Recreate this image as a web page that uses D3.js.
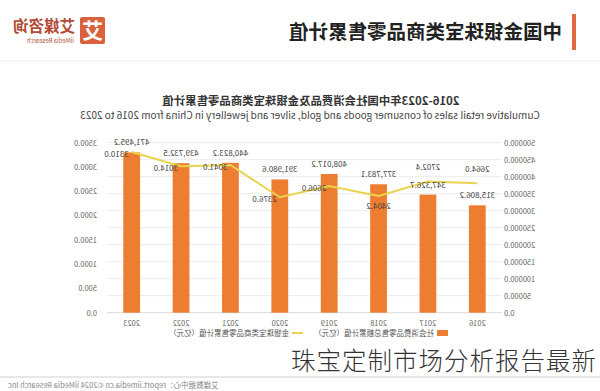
<!DOCTYPE html>
<html>
<head>
<meta charset="utf-8">
<script src="https://cdn.jsdelivr.net/npm/d3@7"></script>
<style>
  body { margin: 0; background: #fff; }
  svg { display: block; font-family: "Noto Sans CJK SC", "Noto Sans", sans-serif; }
</style>
</head>
<body>
<script>
var years = ["2016", "2017", "2018", "2019", "2020", "2021", "2022", "2023"];
var retailTotal = [315806.2, 347326.7, 377783.1, 408017.2, 391980.6, 440823.2, 439732.5, 471495.2];
var jewellery = [2664.0, 2702.4, 2404.2, 2606.0, 2376.0, 3041.0, 3014.0, 3310.0];
var leftTicks = [0, 50000, 100000, 150000, 200000, 250000, 300000, 350000, 400000, 450000, 500000];
var rightTicks = [0, 500, 1000, 1500, 2000, 2500, 3000, 3500];
// where each line label sits relative to its point
var lineLabelPos = ["above", "above", "below", "right", "right", "right", "right", "right"];

var W = 600, H = 391;
var plot = {left: 98, right: 493, top: 142.7, bottom: 312.7};

var svg = d3.select("body").append("svg")
    .attr("width", W)
    .attr("height", H);

// the reference picture is a mirror image, so the chart is drawn normally and flipped
var g = svg.append("g")
    .attr("transform", `translate(${W},0) scale(-1,1)`);

// header
g.append("rect").attr("x", 24).attr("y", 14).attr("width", 4).attr("height", 36).attr("fill", "#df6a42");
g.append("text").attr("x", 38).attr("y", 39)
    .attr("font-size", 19.5).attr("font-weight", "bold").attr("fill", "#222")
    .text("中国金银珠宝类商品零售累计值");
g.append("rect").attr("x", 495).attr("y", 17).attr("width", 25).attr("height", 27).attr("rx", 2).attr("fill", "#d9623c");
g.append("text").attr("x", 507.5).attr("y", 38).attr("text-anchor", "middle")
    .attr("font-size", 21).attr("font-weight", "bold").attr("fill", "#fff").text("艾");
g.append("text").attr("x", 525).attr("y", 32)
    .attr("font-size", 15.5).attr("font-weight", "bold").attr("fill", "#b34a35").text("艾媒咨询");
g.append("text").attr("x", 526).attr("y", 43)
    .attr("font-size", 6).attr("fill", "#b34a35").text("iiMedia Research");
g.append("line").attr("x1", 0).attr("x2", W).attr("y1", 61).attr("y2", 61)
    .attr("stroke", "#f0f0f0");

// chart titles
g.append("text").attr("x", 289).attr("y", 105).attr("text-anchor", "middle")
    .attr("font-size", 11.4).attr("font-weight", "bold").attr("fill", "#333")
    .text("2016-2023年中国社会消费品及金银珠宝类商品零售累计值");
g.append("text").attr("x", 290).attr("y", 119).attr("text-anchor", "middle")
    .attr("font-size", 10).attr("fill", "#444")
    .text("Cumulative retail sales of consumer goods and gold, silver and jewellery in China from 2016 to 2023");

var x = d3.scaleBand().domain(years).range([plot.left, plot.right]).paddingInner(0.66).paddingOuter(0.33);
var yL = d3.scaleLinear().domain([0, 500000]).range([plot.bottom, plot.top]);
var yR = d3.scaleLinear().domain([0, 3500]).range([plot.bottom, plot.top]);

// gridlines
g.append("g").selectAll("line").data(leftTicks).join("line")
    .attr("x1", plot.left).attr("x2", plot.right)
    .attr("y1", d => yL(d)).attr("y2", d => yL(d))
    .attr("stroke", d => d === 0 ? "#d9d9d9" : "#ececec");

var axisL = g.append("g")
    .attr("transform", `translate(${plot.left - 2},0)`)
    .call(d3.axisLeft(yL).tickValues(leftTicks).tickSize(0).tickPadding(0).tickFormat(d3.format(".1f")));
var axisR = g.append("g")
    .attr("transform", `translate(${plot.right + 10},0)`)
    .call(d3.axisRight(yR).tickValues(rightTicks).tickSize(0).tickPadding(0).tickFormat(d3.format(".1f")));
var axisX = g.append("g")
    .attr("transform", `translate(0,${plot.bottom})`)
    .call(d3.axisBottom(x).tickSize(0).tickPadding(8));
[axisL, axisR, axisX].forEach(a => {
  a.select(".domain").remove();
  a.selectAll("text").attr("font-size", 7.5).attr("fill", "#666")
      .attr("font-family", "\"Noto Sans CJK SC\", sans-serif");
});

// bars
var rows = years.map((y, i) => ({year: y, total: retailTotal[i], jew: jewellery[i], pos: lineLabelPos[i]}));
g.append("g").selectAll("rect").data(rows).join("rect")
    .attr("x", d => x(d.year))
    .attr("width", x.bandwidth())
    .attr("y", d => yL(d.total))
    .attr("height", d => plot.bottom - yL(d.total))
    .attr("fill", "#ed7d31");

// line
var line = d3.line()
    .x(d => x(d.year) + x.bandwidth() / 2)
    .y(d => yR(d.jew));
g.append("path").datum(rows)
    .attr("fill", "none")
    .attr("stroke", "#e9d44e")
    .attr("stroke-width", 2)
    .attr("d", line);

// labels
var fmt = d3.format(",.1f");
g.append("g").selectAll("text").data(rows).join("text")
    .attr("x", d => x(d.year) + x.bandwidth() / 2)
    .attr("y", d => yL(d.total) - 7)
    .attr("text-anchor", "middle")
    .attr("font-size", 8).attr("fill", "#444")
    .text(d => fmt(d.total));

g.append("g").selectAll("text").data(rows).join("text")
    .attr("x", d => x(d.year) + x.bandwidth() / 2 + (d.pos === "right" ? 3 : 0))
    .attr("y", d => yR(d.jew) + (d.pos === "above" ? -11 : d.pos === "below" ? 13 : 5))
    .attr("text-anchor", d => d.pos === "right" ? "start" : "middle")
    .attr("font-size", 8).attr("fill", "#444")
    .text(d => d3.format(".1f")(d.jew));

// legend
var lg = g.append("g").attr("transform", "translate(152,333)");
lg.append("rect").attr("x", 0).attr("y", -3).attr("width", 11).attr("height", 6).attr("fill", "#ed7d31");
lg.append("text").attr("x", 14).attr("y", 3).attr("font-size", 7.5).attr("fill", "#555")
    .text("社会消费品零售总额累计值（亿元）");
lg.append("line").attr("x1", 145).attr("x2", 156).attr("y1", 0).attr("y2", 0)
    .attr("stroke", "#e9d44e").attr("stroke-width", 2);
lg.append("text").attr("x", 159).attr("y", 3).attr("font-size", 7.5).attr("fill", "#555")
    .text("金银珠宝类商品零售累计值（亿元）");

// footer
g.append("line").attr("x1", 0).attr("x2", W).attr("y1", 377).attr("y2", 377)
    .attr("stroke", "#d0d0d0");
g.append("text").attr("x", 592).attr("y", 388).attr("text-anchor", "end")
    .attr("font-size", 7.5).attr("fill", "#888")
    .text("艾媒数据中心：report.iimedia.cn    ©2024  iiMedia Research Inc");

// watermark (not mirrored)
svg.append("text").attr("x", 597).attr("y", 370).attr("text-anchor", "end")
    .attr("font-size", 24.5).attr("font-weight", 300).attr("fill", "#333")
    .attr("letter-spacing", 1)
    .text("珠宝定制市场分析报告最新");
</script>
</body>
</html>
